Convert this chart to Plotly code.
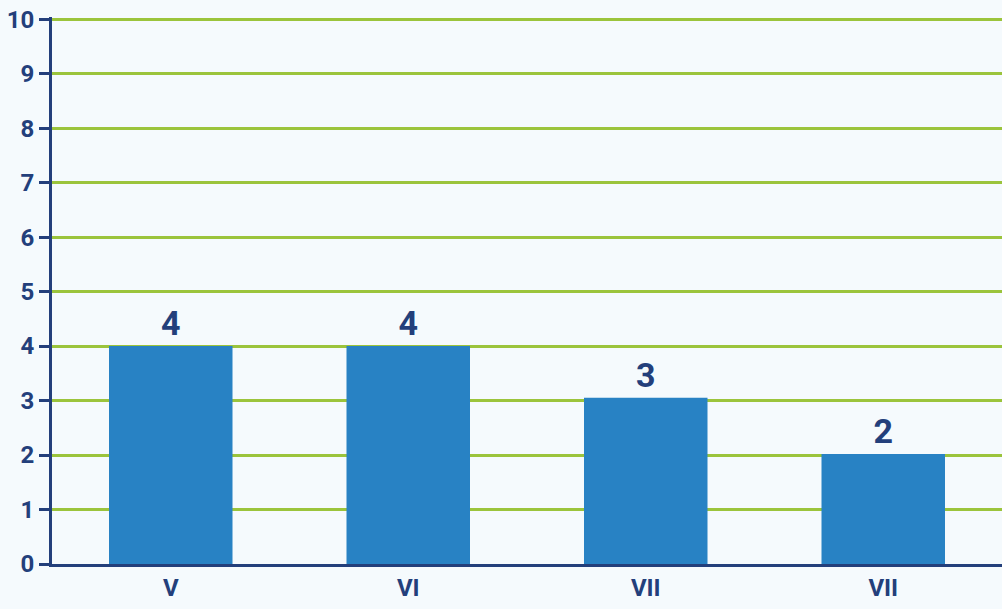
import plotly.graph_objects as go

categories = ["V", "VI", "VII", "VII"]
values = [4, 4, 3.05, 2.02]
labels = ["4", "4", "3", "2"]
y_ticks = list(range(0, 11))

navy = "#233f7b"
green = "#9bc43c"
bar_color = "#2882c4"
bg = "#f5fafd"
font_family = "Roboto, Liberation Sans Narrow, Arial"

idx = list(range(len(categories)))

fig = go.Figure(
    go.Bar(
        x=idx,
        y=values,
        text=labels,
        texttemplate="<b>%{text}</b>",
        textposition="outside",
        textfont=dict(family=font_family, size=34, color=navy),
        marker=dict(color=bar_color, line=dict(width=0)),
        width=0.52,
        cliponaxis=False,
        hoverinfo="skip",
    )
)

fig.update_layout(
    width=1002,
    height=609,
    margin=dict(l=52, r=0, t=17, b=45),
    paper_bgcolor=bg,
    plot_bgcolor=bg,
    showlegend=False,
    font=dict(family=font_family, color=navy, size=22),
)

fig.update_xaxes(
    range=[-0.5, 3.5],
    tickmode="array",
    tickvals=idx,
    ticktext=["<b>%s</b>" % c for c in categories],
    tickfont=dict(family=font_family, size=24, color=navy),
    showgrid=False,
    showline=True,
    linecolor=navy,
    linewidth=3,
    ticks="",
    zeroline=False,
)

fig.update_yaxes(
    range=[0, 10.04],
    tickmode="array",
    tickvals=y_ticks,
    ticktext=["<b>%d</b>" % t for t in y_ticks],
    tickfont=dict(family=font_family, size=24, color=navy),
    showgrid=True,
    gridcolor=green,
    gridwidth=3,
    showline=True,
    linecolor=navy,
    linewidth=3,
    ticks="outside",
    ticklen=10,
    tickwidth=3,
    tickcolor=navy,
    zeroline=False,
)

fig.write_html(
    "out.html",
    config={"displayModeBar": False, "staticPlot": True},
    post_script="document.body.style.margin='0';document.body.style.background='%s';" % bg,
)
